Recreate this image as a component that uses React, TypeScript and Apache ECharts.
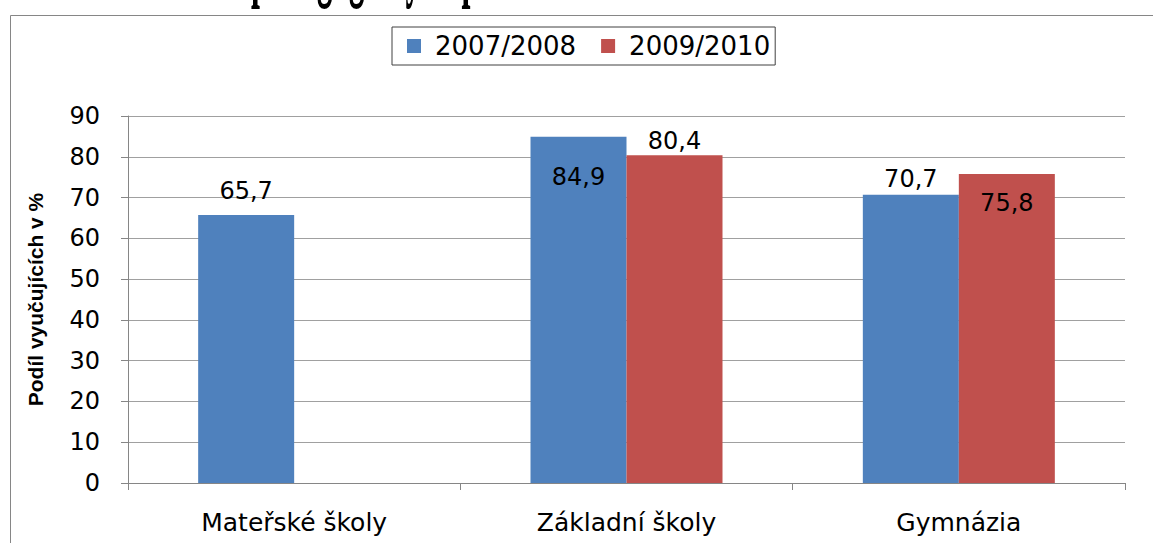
import React, { useEffect, useRef } from "react";
import * as echarts from "echarts";

const categories = ["Mateřské školy", "Základní školy", "Gymnázia"];
const seriesNames = ["2007/2008", "2009/2010"];
const values2007 = [65.7, 84.9, 70.7];
const values2009: (number | null)[] = [null, 80.4, 75.8];
const titleFragment = "pedagogických pracovníků";
const yAxisTitle = "Podíl vyučujících v %";

const fmt = (v: number) => String(v).replace(".", ",");

export default function App() {
  const ref = useRef<HTMLDivElement>(null);
  useEffect(() => {
    document.body.style.margin = "0";
    const chart = echarts.init(ref.current!, null, { renderer: "svg" });
    const numFont = "DejaVu Sans";
    const baseLabel = {
      show: true,
      position: "top" as const,
      color: "#000",
      fontFamily: numFont,
      fontSize: 24,
      formatter: (p: any) => fmt(p.value),
    };
    const labelOverrides2007: Record<number, any> = {
      0: { distance: 12 },
      1: { position: "insideTop", distance: 28 },
      2: { distance: 4 },
    };
    const labelOverrides2009: Record<number, any> = {
      1: { distance: 2 },
      2: { position: "insideTop", distance: 17 },
    };
    const mk = (vals: (number | null)[], ov: Record<number, any>) =>
      vals.map((v, i) =>
        v == null ? null : { value: v, label: { ...(ov[i] || {}) } }
      );
    chart.setOption({
      animation: false,
      backgroundColor: "#fff",
      grid: { left: 128, right: 28, top: 116, bottom: 60, containLabel: false },
      legend: {
        left: 392,
        top: 27,
        itemWidth: 14,
        itemHeight: 14,
        itemGap: 25,
        icon: "rect",
        padding: [6, 5, 6, 15],
        borderColor: "#404040",
        borderWidth: 1,
        textStyle: {
          fontFamily: numFont,
          fontSize: 26,
          color: "#000",
          padding: [0, 0, 0, 9],
        },
        data: seriesNames,
      },
      xAxis: {
        type: "category",
        data: categories,
        axisLine: { lineStyle: { color: "#868686", width: 1 } },
        axisTick: { show: true, length: 7, interval: 0, lineStyle: { color: "#868686" } },
        axisLabel: {
          margin: 27,
          color: "#000",
          fontFamily: numFont,
          fontSize: 25,
          interval: 0,
        },
        splitLine: { show: false },
      },
      yAxis: {
        type: "value",
        min: 0,
        max: 90,
        interval: 10,
        name: yAxisTitle,
        nameLocation: "middle",
        nameGap: 82,
        nameRotate: 90,
        nameTextStyle: {
          fontFamily: "Liberation Sans",
          fontWeight: "bold",
          fontSize: 21,
          color: "#000",
        },
        axisLine: { show: true, lineStyle: { color: "#868686", width: 1 } },
        axisTick: { show: true, length: 7, lineStyle: { color: "#868686" } },
        axisLabel: {
          margin: 28,
          color: "#000",
          fontFamily: numFont,
          fontSize: 24,
        },
        splitLine: { show: true, lineStyle: { color: "#a0a0a0", width: 1 } },
      },
      series: [
        {
          name: seriesNames[0],
          type: "bar",
          barWidth: 96,
          barGap: "0%",
          itemStyle: { color: "#4f81bd" },
          label: baseLabel,
          data: mk(values2007, labelOverrides2007),
        },
        {
          name: seriesNames[1],
          type: "bar",
          barWidth: 96,
          barGap: "0%",
          itemStyle: { color: "#c0504d" },
          label: baseLabel,
          data: mk(values2009, labelOverrides2009),
        },
      ],
      graphic: [
        {
          type: "rect",
          silent: true,
          shape: { x: 10.5, y: 15.5, width: 1300, height: 700 },
          style: { fill: "none", stroke: "#868686", lineWidth: 1 },
          z: -1,
        },
        {
          type: "text",
          silent: true,
          x: 251,
          y: 4,
          scaleX: 1.23,
          scaleY: 3.6,
          style: {
            text: titleFragment,
            font: "bold 26px 'Liberation Serif'",
            fill: "#000",
            verticalAlign: "bottom",
          },
        },
      ],
    });
    return () => chart.dispose();
  }, []);
  return (
    <div
      ref={ref}
      style={{ position: "absolute", left: 0, top: 0, width: 1153, height: 543 }}
    />
  );
}
